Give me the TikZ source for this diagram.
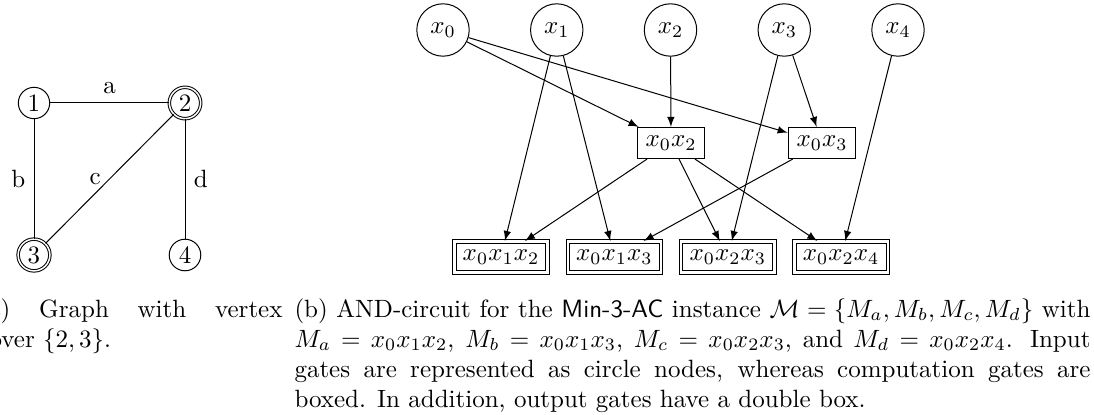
\documentclass[tikz,border=0pt]{standalone}
\usepackage{amsmath}
\usetikzlibrary{arrows}
\tikzset{%
  myedge/.style={-latex},
  vnode/.style={circle, draw=black, inner sep=1.5pt},
  innode/.style={circle, draw=black},
  gatenode/.style={rectangle, draw=black},
  outnode/.style={rectangle, draw=black, double, double distance=1pt}
}

\begin{document}
\begin{tikzpicture}[x=0.4pt, y=0.4pt]
\useasboundingbox (0,0) rectangle (1094,414);
\clip (0,0) rectangle (1094,414);

% graph
\node [vnode] (V1) at (34,311) {1};
\node [vnode, double] (V2) at (185,311) {2};
\node [vnode, double] (V3) at (34,159) {3};
\node [vnode] (V4) at (185,159) {4};

\draw (V1) -- (V2) node [midway, above] {a};
\draw (V1) -- (V3) node [midway, left] {b};
\draw (V3) -- (V2) node [midway, left] {c};
\draw (V2) -- (V4) node [midway, right] {d};

% input gates
\foreach \i in {0,1,2,3,4} {
  \node [innode] (X\i) at (443+113.75*\i, 384) {$x_\i$};
}

% computation gates
\node [gatenode] (X02) at (671,271) {$x_0x_2$};
\node [gatenode] (X03) at (822,271) {$x_0x_3$};

% output gates
\foreach \n / \lab [count=\k from 0] in {O012/x_0x_1x_2, O013/x_0x_1x_3, O023/x_0x_2x_3, O024/x_0x_2x_4} {
  \node [outnode] (\n) at (501+113.4*\k, 157) {$\lab$};
}

\foreach \a / \b in {X0/X02, X0/X03, X1/O012, X1/O013, X2/X02, X3/X03, X3/O023, X4/O024, X02/O012, X02/O023, X02/O024, X03/O013} {
  \draw [myedge] (\a) -- (\b);
}

% captions
\node [anchor=base west, inner sep=0pt] (CapA) at (-22,97) {\begin{minipage}[t]{121.6pt}(a) Graph with vertex\linebreak cover $\{2,3\}$.\end{minipage}};
\node [anchor=base west, inner sep=0pt] (CapB) at (294,97) {\begin{minipage}[t]{318.4pt}(b) AND-circuit for the \textsf{Min-3-AC} instance $\mathcal{M}=\{M_a,M_b,M_c,M_d\}$ with\linebreak $M_a=x_0x_1x_2$, $M_b=x_0x_1x_3$, $M_c=x_0x_2x_3$, and $M_d=x_0x_2x_4$. Input\linebreak gates are represented as circle nodes, whereas computation gates are\linebreak boxed. In addition, output gates have a double box.\end{minipage}};

\end{tikzpicture}
\end{document}
